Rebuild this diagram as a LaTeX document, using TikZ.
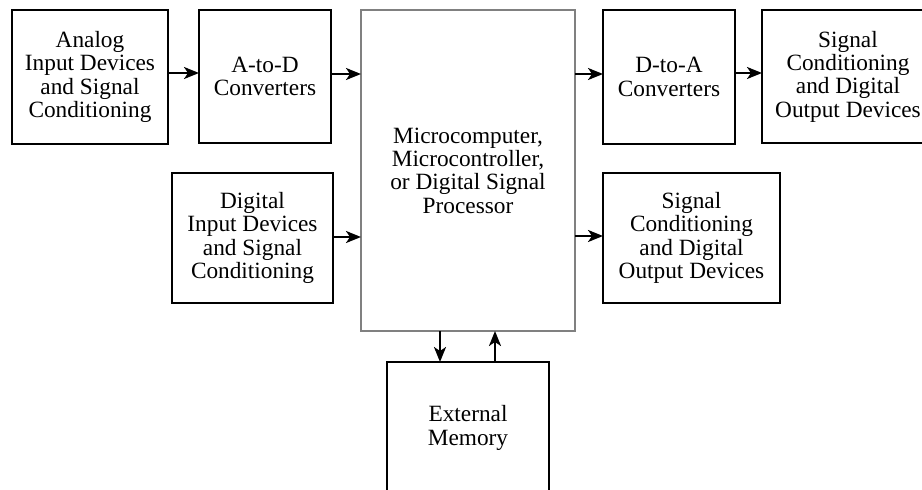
\documentclass[tikz,border=0pt]{standalone}
\usepackage{fontspec}
\setmainfont{Liberation Serif}
\usetikzlibrary{arrows.meta}
\begin{document}
\begin{tikzpicture}[x=1pt,y=-1pt,
  blk/.style={draw=black,line width=2.4pt,fill=white,inner sep=0pt,outer sep=0pt,align=center,
    font=\fontsize{23.3}{23.3}\selectfont},
  cpu/.style={blk,draw=black!50,line width=2.2pt},
  arr/.style={line width=2.2pt,-{Stealth[length=15pt,width=12pt,inset=4pt]}}]
\useasboundingbox (0,0) rectangle (922,490);
\node[blk,minimum width=156pt,minimum height=134pt] (adc-in) at (90,77) {Analog\\Input Devices\\and Signal\\Conditioning};
\node[blk,minimum width=132pt,minimum height=133pt] (adc) at (265,76.5) {A-to-D\\Converters};
\node[cpu,minimum width=214pt,minimum height=321pt] (cpu) at (468,170.5) {Microcomputer,\\Microcontroller,\\or Digital Signal\\Processor};
\node[blk,minimum width=132pt,minimum height=134pt] (dac) at (669,77) {D-to-A\\Converters};
\node[blk,minimum width=172pt,minimum height=133pt] (out1) at (848,76.5) {Signal\\Conditioning\\and Digital\\Output Devices};
\node[blk,minimum width=161pt,minimum height=130pt] (din) at (252.5,238) {Digital\\Input Devices\\and Signal\\Conditioning};
\node[blk,minimum width=177pt,minimum height=130pt] (out2) at (691.5,238) {Signal\\Conditioning\\and Digital\\Output Devices};
\node[blk,minimum width=162pt,minimum height=132pt] (mem) at (468,428) {External\\Memory};
\draw[arr] (adc-in.east |- 0,73) -- (adc.west |- 0,73);
\draw[arr] (adc.east |- 0,74) -- (cpu.west |- 0,74);
\draw[arr] (cpu.east |- 0,74) -- (dac.west |- 0,74);
\draw[arr] (dac.east |- 0,73) -- (out1.west |- 0,73);
\draw[arr] (din.east |- 0,237) -- (cpu.west |- 0,237);
\draw[arr] (cpu.east |- 0,236) -- (out2.west |- 0,236);
\draw[arr] (cpu.south -| 440,0) -- (mem.north -| 440,0);
\draw[arr] (mem.north -| 495,0) -- (cpu.south -| 495,0);
\end{tikzpicture}
\end{document}
